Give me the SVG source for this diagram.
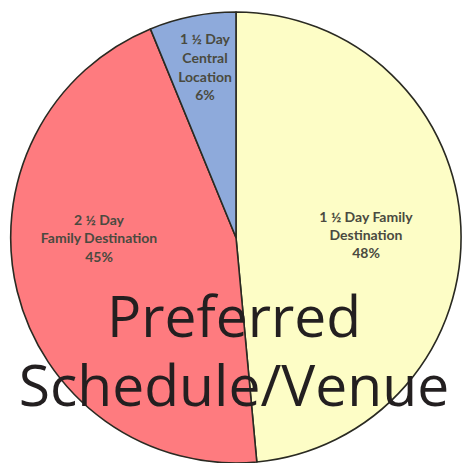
<svg xmlns="http://www.w3.org/2000/svg" width="464" height="463" viewBox="0 0 464 463">
<style>
.slice{stroke:#2a2a22;stroke-width:1.6;stroke-linejoin:round}
.lbl{font-family:Lato,"Liberation Sans",sans-serif;font-weight:bold;font-size:14px;fill:#4a4a40;text-anchor:middle}
.title{font-family:"Open Sans","Noto Sans",sans-serif;font-size:57px;fill:#231f20;text-anchor:middle}
</style>
<rect width="464" height="463" fill="#ffffff"/>
<g id="slice-yellow">
<path class="slice" fill="#fdfdc6" d="M236,237.5 L236,12 A225.5,225.5 0 0 1 256.8,462 Z"/>
<text class="lbl" x="366" y="222">1 ½ Day Family</text>
<text class="lbl" x="366" y="240">Destination</text>
<text class="lbl" x="366" y="258">48%</text>
</g>
<g id="slice-red">
<path class="slice" fill="#fe7b7f" d="M236,237.5 L256.8,462 A225.5,225.5 0 0 1 150.4,28.9 Z"/>
<text class="lbl" x="99" y="225">2 ½ Day</text>
<text class="lbl" x="99" y="243">Family Destination</text>
<text class="lbl" x="99" y="262">45%</text>
</g>
<g id="slice-blue">
<path class="slice" fill="#8eaadb" d="M236,237.5 L236,12 A225.5,225.5 0 0 0 150.4,28.9 Z"/>
<text class="lbl" x="205" y="44">1 ½ Day</text>
<text class="lbl" x="205" y="63">Central</text>
<text class="lbl" x="205" y="82">Location</text>
<text class="lbl" x="205" y="100">6%</text>
</g>
<g id="title">
<text class="title" x="234" y="337">Preferred</text>
<text class="title" x="234" y="406">Schedule/Venue</text>
</g>
</svg>
